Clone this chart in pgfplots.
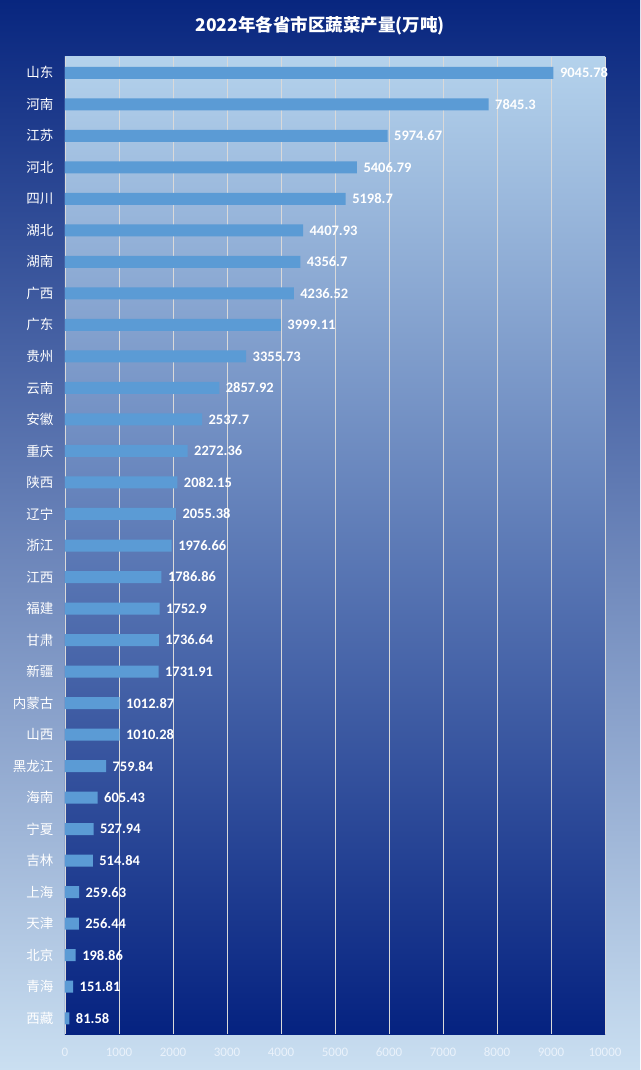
\documentclass[border=0pt]{standalone}
\usepackage{pgfplots}
\pgfplotsset{compat=1.18}
\usepackage{pgfplotstable}
\usepackage{fontspec}
\setmainfont{Carlito}
\newfontfamily\cjk{Noto Sans CJK SC}
\definecolor{barblue}{HTML}{5B9BD5}
\definecolor{navy}{HTML}{08267F}
\definecolor{outmid}{HTML}{7390C8}
\definecolor{outbot}{HTML}{CADFF1}
\definecolor{plottop}{HTML}{B4D2EC}
\definecolor{plotmid}{HTML}{7896CA}
\definecolor{plotbot}{HTML}{052280}
\definecolor{gridc}{HTML}{D9D9D9}
\definecolor{tickc}{HTML}{EAF2FB}
\pgfplotstableread[col sep=comma]{
y,v
0,9045.78
1,7845.3
2,5974.67
3,5406.79
4,5198.7
5,4407.93
6,4356.7
7,4236.52
8,3999.11
9,3355.73
10,2857.92
11,2537.7
12,2272.36
13,2082.15
14,2055.38
15,1976.66
16,1786.86
17,1752.9
18,1736.64
19,1731.91
20,1012.87
21,1010.28
22,759.84
23,605.43
24,527.94
25,514.84
26,259.63
27,256.44
28,198.86
29,151.81
30,81.58
}\data
\begin{document}
\begin{tikzpicture}
\shade[top color=navy, middle color=outmid, bottom color=outbot] (0,0) rectangle (640pt,1070pt);
\node[text=white, font=\cjk\bfseries\fontsize{17.5}{20}\selectfont] at (320pt,1044pt) {2022年各省市区蔬菜产量(万吨)};
\begin{axis}[
  at={(65pt,36pt)}, anchor=south west,
  width=540pt, height=977pt, scale only axis,
  axis background/.style={top color=plottop, middle color=plotmid, bottom color=plotbot},
  xbar, bar width=12pt,
  xmin=0, xmax=10000,
  ymin=-0.5, ymax=30.5, y dir=reverse,
  xtick={0,1000,...,10000},
  ytick={0,...,30},
  yticklabels={山东,河南,江苏,河北,四川,湖北,湖南,广西,广东,贵州,云南,安徽,重庆,陕西,辽宁,浙江,江西,福建,甘肃,新疆,内蒙古,山西,黑龙江,海南,宁夏,吉林,上海,天津,北京,青海,西藏},
  yticklabel style={text=white, font=\cjk\fontsize{13.5}{16}\selectfont, xshift=-8pt},
  xticklabel style={text=tickc, font=\fontsize{13}{15}\selectfont, anchor=base, yshift=-22pt},
  /pgf/number format/assume math mode=true,
  scaled x ticks=false,
  x tick label style={/pgf/number format/1000 sep={}},
  major tick length=0pt,
  xmajorgrids, grid style={gridc, line width=0.9pt},
  axis line style={draw=none},
  nodes near coords,
  point meta=explicit symbolic,
  every node near coord/.append style={text=white, font=\bfseries\fontsize{14.5}{16}\selectfont, anchor=west, xshift=3pt},
]
\addplot[fill=barblue, draw=none] table[x=v, y=y, meta=v] {\data};
\end{axis}
\end{tikzpicture}
\end{document}
